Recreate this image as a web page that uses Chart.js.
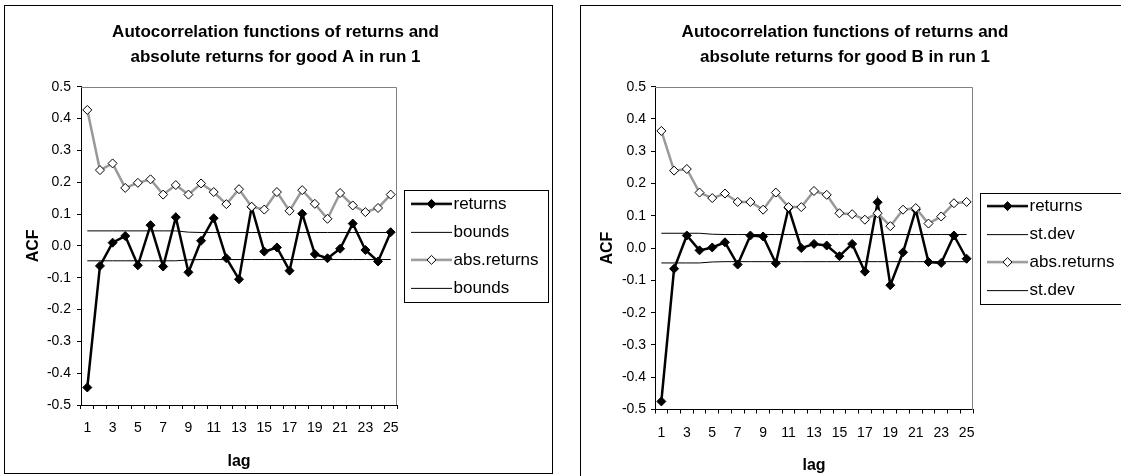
<!DOCTYPE html>
<html>
<head>
<meta charset="utf-8">
<title>ACF of returns and absolute returns</title>
<script src="https://cdn.jsdelivr.net/npm/chart.js@4.4.1/dist/chart.umd.min.js"></script>
<style>
  html, body { margin: 0; padding: 0; background: #fff; }
  body { width: 1121px; height: 476px; position: relative; overflow: hidden; }
  canvas { position: absolute; top: 0; }
  .frame { position: absolute; border: 1px solid #000; pointer-events: none; }
</style>
</head>
<body>
<canvas id="acfA" width="552" height="476" style="left:4px"></canvas>
<canvas id="acfB" width="556" height="476" style="left:567px"></canvas>
<div class="frame" style="left:4px;top:5px;width:547px;height:467px"></div>
<div class="frame" style="left:580px;top:5px;width:620px;height:520px"></div>
<script>
// Lags shown on the category axis
const lags = ['1', '2', '3', '4', '5', '6', '7', '8', '9', '10', '11', '12', '13',
              '14', '15', '16', '17', '18', '19', '20', '21', '22', '23', '24', '25'];

// Good A, run 1
const titleA = ['Autocorrelation functions of returns and', 'absolute returns for good A in run 1'];
const returnsA = [-0.445, -0.063, 0.010, 0.031, -0.061, 0.065, -0.065, 0.090, -0.083, 0.016,
                  0.087, -0.039, -0.105, 0.122, -0.018, -0.005, -0.078, 0.101, -0.026, -0.039,
                  -0.009, 0.070, -0.013, -0.049, 0.043];
const absReturnsA = [0.427, 0.238, 0.259, 0.182, 0.198, 0.209, 0.161, 0.191, 0.161, 0.196,
                     0.169, 0.131, 0.178, 0.123, 0.114, 0.169, 0.110, 0.175, 0.132, 0.085,
                     0.166, 0.127, 0.106, 0.119, 0.161];
const upperBoundA = [0.047, 0.047, 0.047, 0.047, 0.047, 0.047, 0.047, 0.047, 0.043, 0.042,
                     0.042, 0.042, 0.042, 0.042, 0.042, 0.042, 0.042, 0.042, 0.042, 0.042,
                     0.042, 0.042, 0.042, 0.042, 0.042];
const lowerBoundA = [-0.047, -0.047, -0.047, -0.047, -0.047, -0.047, -0.047, -0.047, -0.044, -0.043,
                     -0.043, -0.043, -0.043, -0.043, -0.043, -0.043, -0.043, -0.043, -0.043, -0.043,
                     -0.043, -0.043, -0.043, -0.043, -0.043];

// Good B, run 1
const titleB = ['Autocorrelation functions of returns and', 'absolute returns for good B in run 1'];
const returnsB = [-0.475, -0.064, 0.039, -0.007, 0.002, 0.018, -0.051, 0.039, 0.036, -0.047,
                  0.125, 0.000, 0.013, 0.008, -0.025, 0.013, -0.073, 0.142, -0.115, -0.013,
                  0.119, -0.043, -0.046, 0.039, -0.033];
const absReturnsB = [0.363, 0.240, 0.245, 0.172, 0.155, 0.169, 0.143, 0.143, 0.119, 0.172,
                     0.127, 0.127, 0.177, 0.165, 0.108, 0.105, 0.088, 0.108, 0.068, 0.119,
                     0.124, 0.076, 0.098, 0.139, 0.143];
const upperStdB = [0.046, 0.046, 0.046, 0.046, 0.043, 0.042, 0.042, 0.042, 0.042, 0.042,
                   0.042, 0.042, 0.042, 0.042, 0.042, 0.042, 0.042, 0.042, 0.042, 0.042,
                   0.042, 0.042, 0.042, 0.042, 0.042];
const lowerStdB = [-0.046, -0.046, -0.046, -0.046, -0.043, -0.042, -0.042, -0.042, -0.042, -0.042,
                   -0.042, -0.042, -0.042, -0.042, -0.042, -0.042, -0.042, -0.042, -0.042, -0.042,
                   -0.042, -0.042, -0.042, -0.042, -0.042];

// Value axis range
const yMin = -0.5;
const yMax = 0.5;
const yStep = 0.1;

const FONT = "'Liberation Sans', Arial, Helvetica, sans-serif";
Chart.defaults.font.family = FONT;
Chart.defaults.color = '#000';

// Small line-plus-marker sample used as the legend symbol
function swatch(lineColor, lineWidth, markerFill) {
  const c = document.createElement('canvas');
  c.width = 51;
  c.height = 14;
  const g = c.getContext('2d');
  const y = lineWidth % 2 === 1 ? 7.5 : 7;
  g.strokeStyle = lineColor;
  g.lineWidth = lineWidth;
  g.beginPath();
  g.moveTo(10, y);
  g.lineTo(51, y);
  g.stroke();
  if (markerFill) {
    const x = 30.5, r = 4.5;
    g.beginPath();
    g.moveTo(x - r, 7); g.lineTo(x, 7 - r); g.lineTo(x + r, 7); g.lineTo(x, 7 + r);
    g.closePath();
    g.fillStyle = markerFill;
    g.fill();
    g.lineWidth = 1;
    g.strokeStyle = '#000';
    g.stroke();
  }
  return c;
}

// Grey edge along the top and right of the plot area
const plotEdge = {
  id: 'plotEdge',
  beforeDatasetsDraw(chart) {
    const { ctx, chartArea: a } = chart;
    const top = Math.round(a.top) + 0.5;
    const right = Math.round(a.right) - 0.5;
    ctx.save();
    ctx.strokeStyle = '#808080';
    ctx.lineWidth = 1;
    ctx.beginPath();
    ctx.moveTo(Math.round(a.left), top);
    ctx.lineTo(right, top);
    ctx.lineTo(right, Math.round(a.bottom));
    ctx.stroke();
    ctx.restore();
  }
};

// Outline around the legend entries
const legendOutline = {
  id: 'legendOutline',
  afterDraw(chart) {
    const lg = chart.legend;
    if (!lg || !lg.legendHitBoxes || !lg.legendHitBoxes.length) return;
    const boxes = lg.legendHitBoxes;
    const first = boxes[0];
    const last = boxes[boxes.length - 1];
    const top = Math.round(first.top + first.height / 2 - 13.5) + 0.5;
    const bottom = Math.round(last.top + last.height / 2 + 14) + 0.5;
    const left = Math.round(lg.left + 7) + 0.5;
    const right = Math.round(lg.left + 151) + 0.5;
    const ctx = chart.ctx;
    ctx.save();
    ctx.strokeStyle = '#000';
    ctx.lineWidth = 1;
    ctx.strokeRect(left, top, right - left, bottom - top);
    ctx.restore();
  }
};

function acfChart(canvasId, s, L) {
  const symbols = [
    swatch('#000', 2.5, '#000'),
    swatch('#000', 1, null),
    swatch('#999999', 2.5, '#fff'),
    swatch('#000', 1, null)
  ];
  return new Chart(document.getElementById(canvasId), {
    type: 'line',
    data: {
      labels: lags,
      datasets: [
        { label: 'returns', data: s.returns, order: 1,
          borderColor: '#000', borderWidth: 2.5, tension: 0,
          pointStyle: 'rectRot', pointRadius: 4.5, pointHoverRadius: 4.5,
          pointBackgroundColor: '#000', pointBorderColor: '#000', pointBorderWidth: 1 },
        { label: s.boundLabel, data: s.upper, order: 2,
          borderColor: '#000', borderWidth: 1, pointRadius: 0, pointHoverRadius: 0 },
        { label: 'abs.returns', data: s.abs, order: 0,
          borderColor: '#999999', borderWidth: 2.5, tension: 0,
          pointStyle: 'rectRot', pointRadius: 4.5, pointHoverRadius: 4.5,
          pointBackgroundColor: '#fff', pointBorderColor: '#000', pointBorderWidth: 1 },
        { label: s.boundLabel, data: s.lower, order: 2,
          borderColor: '#000', borderWidth: 1, pointRadius: 0, pointHoverRadius: 0 }
      ]
    },
    options: {
      responsive: false,
      animation: false,
      devicePixelRatio: 1,
      events: [],
      layout: { padding: { left: 0, right: L.padRight, top: 0, bottom: 0 } },
      plugins: {
        tooltip: { enabled: false },
        title: {
          display: true,
          text: s.title,
          color: '#000',
          font: { family: FONT, size: 17, weight: 'bold', lineHeight: 25 / 17 },
          padding: { top: 19.5, bottom: L.titleGap }
        },
        legend: {
          position: 'right',
          fullSize: false,
          maxWidth: 150,
          labels: {
            usePointStyle: true,
            pointStyleWidth: 37,
            padding: 11,
            color: '#000',
            font: { family: FONT, size: 17 },
            generateLabels: (chart) => chart.data.datasets.map((ds, i) => ({
              text: ds.label,
              pointStyle: symbols[i],
              fillStyle: 'rgba(0,0,0,0)',
              strokeStyle: 'rgba(0,0,0,0)',
              lineWidth: 0,
              hidden: false,
              datasetIndex: i,
              fontColor: '#000'
            }))
          }
        }
      },
      scales: {
        x: {
          type: 'category',
          offset: true,
          grid: { offset: true, drawOnChartArea: false, drawTicks: true, tickLength: 4, color: '#000', lineWidth: 1 },
          border: { display: true, color: '#000', width: 1 },
          ticks: {
            autoSkip: false, maxRotation: 0, minRotation: 0, padding: 11, color: '#000',
            font: { family: FONT, size: 14 },
            callback: (v, i) => (i % 2 === 0 ? lags[i] : '')
          },
          title: {
            display: true, text: 'lag', color: '#000',
            font: { family: FONT, size: 16, weight: 'bold' },
            padding: { top: 0, bottom: L.lagPad }
          },
          afterFit: (sc) => { sc.height = L.xHeight; }
        },
        y: {
          min: yMin, max: yMax,
          grid: { drawOnChartArea: false, drawTicks: true, tickLength: 4, color: '#000', lineWidth: 1 },
          border: { display: true, color: '#000', width: 1 },
          ticks: {
            stepSize: yStep, padding: L.yTickPad, color: '#000',
            font: { family: FONT, size: 14 },
            callback: (v) => (Math.abs(v) < 1e-9 ? '0.0' : Number(v).toFixed(1))
          },
          title: {
            display: true, text: 'ACF', color: '#000',
            font: { family: FONT, size: 16, weight: 'bold' },
            padding: { top: L.acfPad, bottom: 0 }
          },
          afterFit: (sc) => { sc.width = L.yWidth; }
        }
      }
    },
    plugins: [plotEdge, legendOutline]
  });
}

acfChart('acfA',
  { title: titleA, returns: returnsA, abs: absReturnsA, upper: upperBoundA, lower: lowerBoundA, boundLabel: 'bounds' },
  { padRight: 9, yWidth: 77, xHeight: 71, titleGap: 17.2, lagPad: 4.5, acfPad: 19.5, yTickPad: 6 });

acfChart('acfB',
  { title: titleB, returns: returnsB, abs: absReturnsB, upper: upperStdB, lower: lowerStdB, boundLabel: 'st.dev' },
  { padRight: 0, yWidth: 88, xHeight: 66.5, titleGap: 17.2, lagPad: 0.5, acfPad: 30.5, yTickPad: 5 });
</script>
</body>
</html>
